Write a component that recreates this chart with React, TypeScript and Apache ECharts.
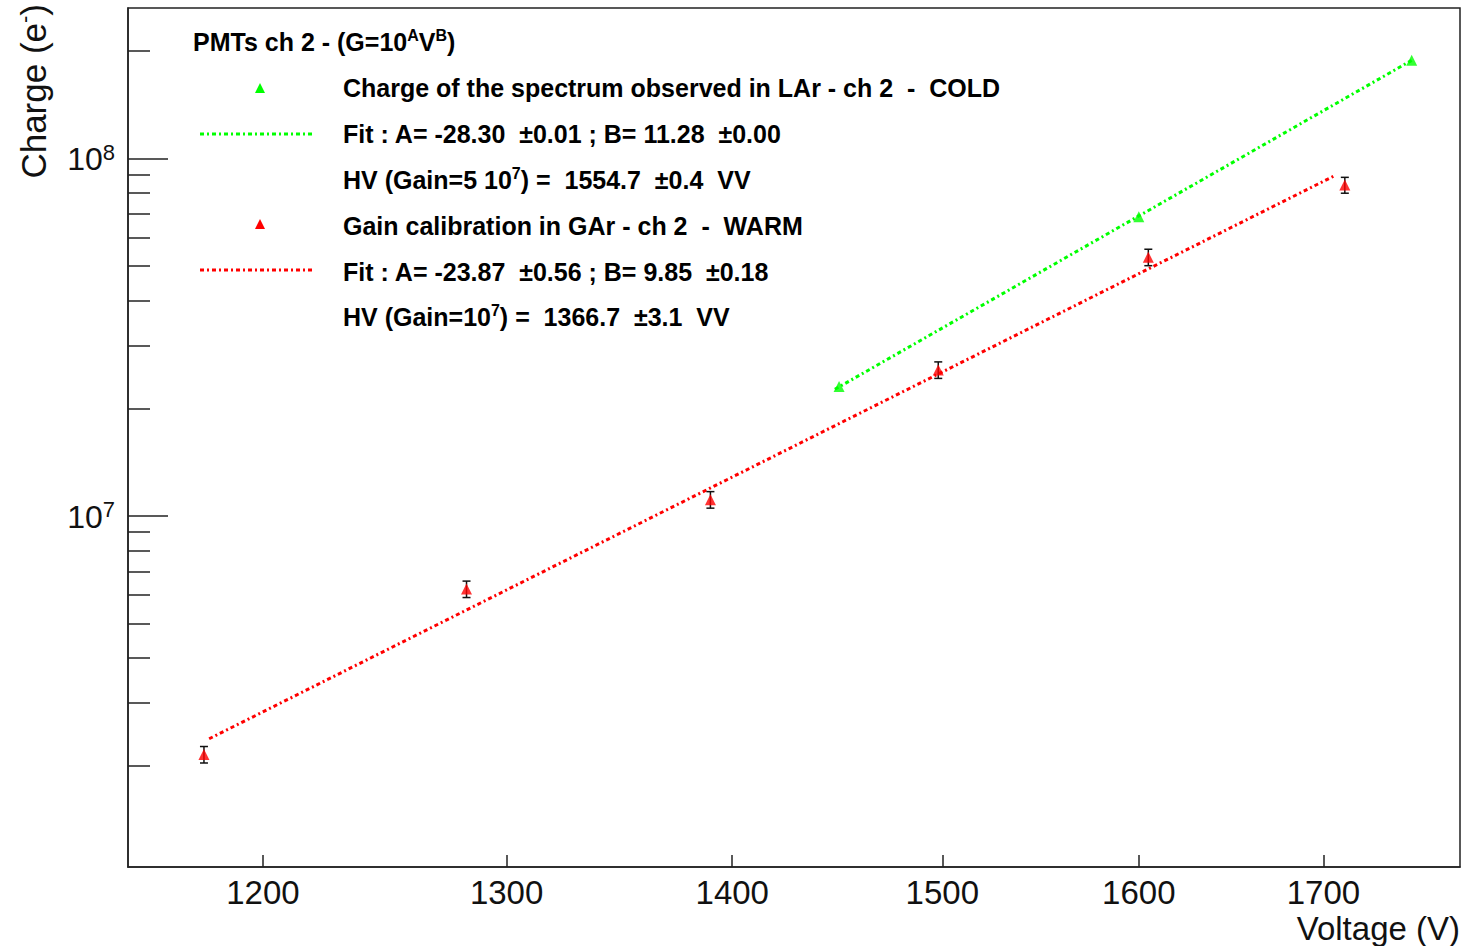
import React, { useEffect, useRef } from 'react';
import * as echarts from 'echarts';

// ---- data ----
const coldVoltage = [1450, 1600, 1750];
const coldCharge = [2.30e7, 6.87e7, 1.88e8];

const warmVoltage = [1177, 1283, 1390, 1498, 1605, 1712];
const warmCharge = [2.15e6, 6.24e6, 1.11e7, 2.56e7, 5.29e7, 8.42e7];
const warmError = [0.114e6, 0.33e6, 0.59e6, 1.36e6, 2.8e6, 4.3e6];

const coldFitVoltage = [1448, 1750];
const coldFitCharge = [2.26e7, 1.88e8];
const warmFitVoltage = [1179, 1707];
const warmFitCharge = [2.38e6, 8.98e7];

const xTickValues = [1200, 1300, 1400, 1500, 1600, 1700];
const yMajorTicks = [1e7, 1e8];
const yMinorTicks = [
  2e6, 3e6, 4e6, 5e6, 6e6, 7e6, 8e6, 9e6,
  2e7, 3e7, 4e7, 5e7, 6e7, 7e7, 8e7, 9e7,
  2e8,
];

const xRange = [1148, 1778];
const yRange = [1.042e6, 2.634e8];

const legendTitle = 'PMTs ch 2 - (G=10{s|A}V{s|B})';
const legendRows = [
  'Charge of the spectrum observed in LAr - ch 2  -  COLD',
  'Fit : A= -28.30  ±0.01 ; B= 11.28  ±0.00',
  'HV (Gain=5 10{s|7}) =  1554.7  ±0.4  VV',
  'Gain calibration in GAr - ch 2  -  WARM',
  'Fit : A= -23.87  ±0.56 ; B= 9.85  ±0.18',
  'HV (Gain=10{s|7}) =  1366.7  ±3.1  VV',
];

const GREEN = '#00ff00';
const RED = '#ff0000';
const FONT = '"Liberation Sans", Arial, Helvetica, sans-serif';
const FIT_DASH = [4, 3, 2, 3];

export default function App() {
  const ref = useRef<HTMLDivElement>(null);

  useEffect(() => {
    if (!ref.current) return;
    const chart = echarts.init(ref.current, null, { renderer: 'svg' });

    const legendText = (text: string, y: number, x = 343, size = 25) => ({
      type: 'text',
      x,
      y,
      style: {
        text,
        font: `bold ${size}px ${FONT}`,
        fill: '#000',
        verticalAlign: 'middle',
        align: 'left',
        rich: {
          s: { fontSize: Math.round(size * 0.62), fontWeight: 'bold', fontFamily: FONT, verticalAlign: 'top', padding: [0, 0, Math.round(size * 0.55), 0] },
        },
      },
      z: 100,
    });

    const rowY = [88, 134, 180, 226, 272, 317];

    const errorBarData = warmVoltage.map((v, i) => [v, warmCharge[i] - warmError[i], warmCharge[i] + warmError[i]]);

    const option: any = {
      animation: false,
      backgroundColor: '#ffffff',
      grid: {
        left: 128,
        right: 6,
        top: 8,
        bottom: 79,
        show: true,
        borderColor: '#222',
        borderWidth: 1.5,
        backgroundColor: 'transparent',
      },
      xAxis: {
        type: 'log',
        logBase: 10,
        min: xRange[0],
        max: xRange[1],
        axisLine: { show: true, lineStyle: { color: '#222', width: 1.5 } },
        axisTick: { show: true, inside: true, length: 12, customValues: xTickValues, lineStyle: { color: '#222', width: 1.5 } },
        minorTick: { show: false },
        splitLine: { show: false },
        axisLabel: {
          customValues: xTickValues,
          formatter: (v: number) => String(Math.round(v)),
          fontSize: 33,
          lineHeight: 32,
          fontFamily: FONT,
          color: '#111',
          margin: 9,
        },
      },
      yAxis: [
        {
          type: 'log',
          logBase: 10,
          min: yRange[0],
          max: yRange[1],
          axisLine: { show: true, lineStyle: { color: '#222', width: 1.5 } },
          axisTick: { show: true, inside: true, length: 40, customValues: yMajorTicks, lineStyle: { color: '#222', width: 1.5 } },
          splitLine: { show: false },
          axisLabel: {
            customValues: yMajorTicks,
            formatter: (v: number) => `{b|10}{s|${Math.round(Math.log10(v))}}`,
            margin: 13,
            rich: {
              b: { fontSize: 32, fontFamily: FONT, color: '#111', lineHeight: 34, verticalAlign: 'bottom' },
              s: { fontSize: 22, fontFamily: FONT, color: '#111', lineHeight: 34, verticalAlign: 'top', padding: [0, 0, 12, 0] },
            },
          },
        },
        {
          type: 'log',
          logBase: 10,
          min: yRange[0],
          max: yRange[1],
          position: 'left',
          axisLine: { show: false },
          axisTick: { show: true, inside: true, length: 22, customValues: yMinorTicks, lineStyle: { color: '#222', width: 1.5 } },
          axisLabel: { show: false },
          splitLine: { show: false },
        },
      ],
      series: [
        {
          name: 'cold fit',
          type: 'line',
          data: coldFitVoltage.map((v, i) => [v, coldFitCharge[i]]),
          showSymbol: false,
          symbol: 'none',
          lineStyle: { color: GREEN, width: 3, type: FIT_DASH },
          z: 2,
        },
        {
          name: 'warm fit',
          type: 'line',
          data: warmFitVoltage.map((v, i) => [v, warmFitCharge[i]]),
          showSymbol: false,
          symbol: 'none',
          lineStyle: { color: RED, width: 3, type: FIT_DASH },
          z: 2,
        },
        {
          name: 'warm errors',
          type: 'custom',
          data: errorBarData,
          encode: { x: 0, y: [1, 2] },
          renderItem: (_params: any, api: any) => {
            const lo = api.coord([api.value(0), api.value(1)]);
            const hi = api.coord([api.value(0), api.value(2)]);
            const w = 4;
            const st = { stroke: '#111', lineWidth: 1.5 };
            return {
              type: 'group',
              children: [
                { type: 'line', shape: { x1: lo[0], y1: lo[1], x2: hi[0], y2: hi[1] }, style: st },
                { type: 'line', shape: { x1: lo[0] - w, y1: lo[1], x2: lo[0] + w, y2: lo[1] }, style: st },
                { type: 'line', shape: { x1: hi[0] - w, y1: hi[1], x2: hi[0] + w, y2: hi[1] }, style: st },
              ],
            };
          },
          z: 3,
        },
        {
          name: 'Charge of the spectrum observed in LAr - ch 2 - COLD',
          type: 'scatter',
          data: coldVoltage.map((v, i) => [v, coldCharge[i]]),
          symbol: 'triangle',
          symbolSize: 11,
          itemStyle: { color: GREEN },
          z: 4,
        },
        {
          name: 'Gain calibration in GAr - ch 2 - WARM',
          type: 'scatter',
          data: warmVoltage.map((v, i) => [v, warmCharge[i]]),
          symbol: 'triangle',
          symbolSize: 11,
          itemStyle: { color: RED },
          z: 4,
        },
      ],
      graphic: [
        // axis titles
        {
          type: 'text',
          x: 1460,
          y: 928,
          style: { text: 'Voltage (V)', font: `33px ${FONT}`, fill: '#111', align: 'right', verticalAlign: 'middle', lineHeight: 30 },
        },
        {
          type: 'text',
          x: 33,
          y: 4,
          rotation: Math.PI / 2,
          style: {
            text: 'Charge (e{s|-})',
            font: `35px ${FONT}`,
            fill: '#111',
            align: 'right',
            verticalAlign: 'middle',
            rich: { s: { fontSize: 22, fontFamily: FONT, verticalAlign: 'top', padding: [0, 0, 18, 0] } },
          },
        },
        // legend
        legendText(legendTitle, 42, 193, 25),
        ...legendRows.map((t, i) => legendText(t, rowY[i])),
        {
          type: 'polygon',
          shape: { points: [[255, 93], [265, 93], [260, 83]] },
          style: { fill: GREEN },
        },
        {
          type: 'line',
          shape: { x1: 200, y1: 134, x2: 314, y2: 134 },
          style: { stroke: GREEN, lineWidth: 3, lineDash: FIT_DASH },
        },
        {
          type: 'polygon',
          shape: { points: [[255, 229], [265, 229], [260, 219]] },
          style: { fill: RED },
        },
        {
          type: 'line',
          shape: { x1: 200, y1: 270, x2: 314, y2: 270 },
          style: { stroke: RED, lineWidth: 3, lineDash: FIT_DASH },
        },
      ],
    };

    chart.setOption(option);
    return () => chart.dispose();
  }, []);

  return (
    <div
      ref={ref}
      style={{ position: 'fixed', left: 0, top: 0, width: 1466, height: 946, background: '#fff' }}
    />
  );
}
